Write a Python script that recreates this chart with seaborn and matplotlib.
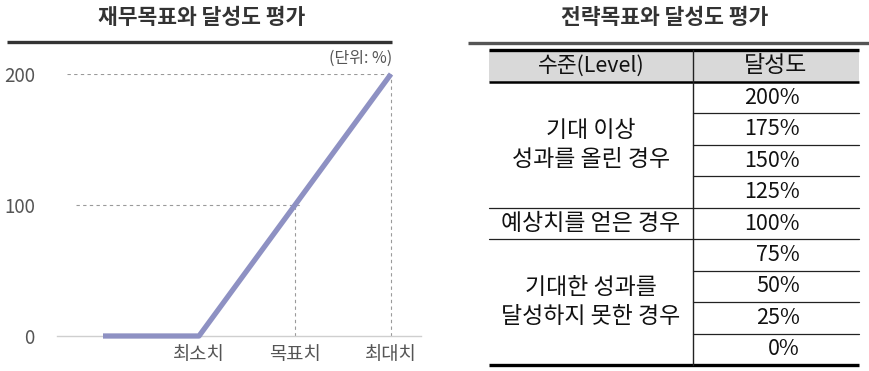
import matplotlib.pyplot as plt
import numpy as np
import pandas as pd
import seaborn as sns
from matplotlib.patches import Rectangle

# left chart data
point_labels = ["", "최소치", "목표치", "최대치"]
achievement = [0, 0, 100, 200]
y_ticks = [0, 100, 200]

# right table data
level_groups = ["기대 이상\n성과를 올린 경우", "예상치를 얻은 경우", "기대한 성과를\n달성하지 못한 경우"]
group_sizes = [4, 1, 4]
rates = ["200%", "175%", "150%", "125%", "100%", "75%", "50%", "25%", "0%"]

W, H = 869, 371
KR = ["Noto Sans CJK KR", "DejaVu Sans"]


def px_rect(x0, y0, x1, y1):
    return [x0 / W, 1 - y1 / H, (x1 - x0) / W, (y1 - y0) / H]


def main():
    sns.set_theme(style="white")
    plt.rcParams["font.family"] = KR
    plt.rcParams["axes.unicode_minus"] = False

    fig = plt.figure(figsize=(W / 100, H / 100), dpi=100)

    # ---- left line chart ----
    ux = 96.0
    x0px = 103.0
    ax = fig.add_axes(px_rect(57, 74, 421, 336))
    df = pd.DataFrame({"x": np.arange(len(achievement)), "y": achievement})
    line_col = "#8e91c3"
    sns.lineplot(data=df, x="x", y="y", ax=ax, color=line_col, linewidth=3.8,
                 solid_capstyle="butt", clip_on=False, zorder=3)
    ax.set_xlim((57 - x0px) / ux, (421 - x0px) / ux)
    ax.set_ylim(0, 200)

    dash = dict(color="#9a9a9a", linewidth=0.8, linestyle=(0, (3, 3)), zorder=1)
    top = df["y"].max()
    ax.plot([(67 - x0px) / ux, df["x"].iloc[-1]], [top, top], **dash)
    ax.plot([(76 - x0px) / ux, 2.06], [achievement[2], achievement[2]], **dash)
    ax.plot([2, 2], [0, achievement[2]], **dash)
    ax.plot([3, 3], [0, achievement[3]], **dash)

    for s in ["top", "right", "left"]:
        ax.spines[s].set_visible(False)
    ax.spines["bottom"].set_color("#cfcfcf")
    ax.spines["bottom"].set_linewidth(1.0)
    ax.set_xticks(range(1, len(point_labels)))
    ax.set_xticklabels(point_labels[1:], fontsize=13.5, color="#555555")
    ax.set_yticks(y_ticks)
    ax.set_yticklabels([str(v) for v in y_ticks], fontsize=13.5, color="#555555")
    ax.tick_params(axis="y", length=0, pad=16)
    ax.tick_params(axis="x", length=0, pad=6)
    ax.set_xlabel("")
    ax.set_ylabel("")

    # ---- overlay for titles, rules and table ----
    ov = fig.add_axes([0, 0, 1, 1])
    ov.set_xlim(0, W)
    ov.set_ylim(H, 0)
    ov.axis("off")
    ov.patch.set_alpha(0)

    ov.text(202, 18, "재무목표와 달성도 평가", ha="center", va="center",
            fontsize=15.5, fontweight="bold", color="#333333")
    ov.text(665, 18, "전략목표와 달성도 평가", ha="center", va="center",
            fontsize=15.5, fontweight="bold", color="#333333")
    ov.plot([7, 392], [41.5, 41.5], color="#333333", linewidth=2.4, solid_capstyle="butt")
    ov.plot([468, 869], [42.5, 42.5], color="#555555", linewidth=2.4, solid_capstyle="butt")
    ov.text(392, 58, "(단위: %)", ha="right", va="center", fontsize=11.5, color="#555555")

    # table
    tl, tr, tdiv = 489, 859, 693
    t_top, h_bot, t_bot = 50, 82, 365
    rh = (t_bot - h_bot) / len(rates)
    ov.add_patch(Rectangle((tl, t_top), tr - tl, h_bot - t_top, facecolor="#d9d9d9",
                           edgecolor="none", zorder=0))
    ov.plot([tl, tr], [t_top, t_top], color="black", linewidth=2.4, solid_capstyle="butt")
    ov.plot([tl, tr], [h_bot, h_bot], color="black", linewidth=1.8, solid_capstyle="butt")
    ov.plot([tl, tr], [t_bot, t_bot], color="black", linewidth=2.4, solid_capstyle="butt")
    ov.plot([tdiv, tdiv], [t_top, t_bot], color="#222222", linewidth=1.0)

    fs_kr = 16.5
    fs_num = 15.5
    lc = (tl + tdiv) / 2
    ov.text(lc, (t_top + h_bot) / 2, "수준(Level)", ha="center", va="center", fontsize=15.5, color="#111111")
    ov.text((tdiv + tr) / 2, (t_top + h_bot) / 2, "달성도", ha="center", va="center", fontsize=fs_kr, color="#111111")

    for i, r in enumerate(rates):
        yc = h_bot + rh * (i + 0.5)
        ov.text(800, yc, r, ha="right", va="center", fontsize=fs_num, color="#111111")
        if i > 0:
            ov.plot([tdiv, tr], [h_bot + rh * i] * 2, color="#222222", linewidth=0.9)

    start = 0
    for g, n in zip(level_groups, group_sizes):
        yc = h_bot + rh * (start + n / 2)
        ov.text(lc, yc, g, ha="center", va="center", fontsize=fs_kr, color="#111111", linespacing=1.35)
        start += n
        if start < len(rates):
            ov.plot([tl, tdiv], [h_bot + rh * start] * 2, color="#222222", linewidth=0.9)

    fig.savefig("out.png", dpi=100)


if __name__ == "__main__":
    main()
